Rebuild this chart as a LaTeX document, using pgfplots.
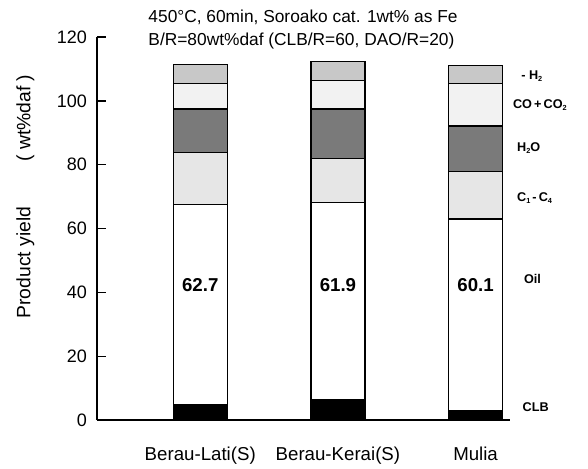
\documentclass[border=0pt]{standalone}
\usepackage{pgfplots}
\pgfplotsset{compat=1.18}
\usepackage{pgfplotstable}
\usepackage{fontspec}
\setmainfont{Liberation Sans}

\definecolor{cH}{HTML}{C8C8C8}
\definecolor{cCO}{HTML}{F2F2F2}
\definecolor{cW}{HTML}{7A7A7A}
\definecolor{cC}{HTML}{E6E6E6}

\newcommand{\sub}[1]{\raisebox{-0.35ex}{\fontsize{5.5}{6}\selectfont #1}}

% columns: CLB, oil, C1-C4, H2O, CO+CO2, H2 (wt%daf)
\pgfplotstableread{
x clb  oil  cc   h2o  co   h2
0 4.9  62.7 16.3 13.5 8.1  5.8
1 6.3  61.9 13.8 15.4 8.9  6.0
2 2.9  60.1 14.9 14.2 13.4 5.5
}\yields

\begin{document}
\begin{tikzpicture}
\begin{axis}[
    scale only axis,
    width=309.75pt, height=287.25pt,
    xmin=-0.75, xmax=2.25, ymin=0, ymax=120,
    enlargelimits=false,
    ybar stacked, bar width=40.5pt,
    axis x line=bottom, axis y line=left,
    x axis line style={-, line width=2pt},
    y axis line style={-, line width=1.2pt},
    xtick={0,1,2},
    xticklabels={Berau-Lati(S),Berau-Kerai(S),Mulia},
    x tick style={draw=none},
    ytick={0,20,...,120},
    tick align=inside, major tick length=7pt,
    y tick style={line width=1pt, black},
    tick label style={font=\fontsize{13.5}{16}\selectfont},
    xticklabel style={font=\fontsize{14}{16}\selectfont, yshift=-17pt},
    /pgf/number format/assume math mode=true,
    yticklabel style={xshift=-4pt},
    every axis plot/.append style={draw=black, line width=1pt},
    clip=false,
]
\addplot[fill=black] table[x=x, y=clb] {\yields};
\addplot[fill=white] table[x=x, y=oil] {\yields};
\addplot[fill=cC] table[x=x, y=cc] {\yields};
\addplot[fill=cW] table[x=x, y=h2o] {\yields};
\addplot[fill=cCO] table[x=x, y=co] {\yields};
\addplot[fill=cH] table[x=x, y=h2] {\yields};

\coordinate (sw) at (rel axis cs:0,0);
\coordinate (ne) at (rel axis cs:1,1);
\coordinate (v0) at (axis cs:0,42.3);
\coordinate (v1) at (axis cs:1,42.3);
\coordinate (v2) at (axis cs:2,42.3);

\node[anchor=west, inner sep=0pt, font=\bfseries\fontsize{9.5}{10}\selectfont] at (axis cs:2.33,107.7) {- H\sub{2}};
\node[anchor=west, inner sep=0pt, font=\bfseries\fontsize{9.5}{10}\selectfont] at (axis cs:2.27,98.6) {CO\,+\,CO\sub{2}};
\node[anchor=west, inner sep=0pt, font=\bfseries\fontsize{9.5}{10}\selectfont] at (axis cs:2.30,85.2) {H\sub{2}O};
\node[anchor=west, inner sep=0pt, font=\bfseries\fontsize{9.5}{10}\selectfont] at (axis cs:2.30,69.5) {C\sub{1}\,-\,C\sub{4}};
\node[anchor=west, inner sep=0pt, font=\bfseries\fontsize{9.5}{10}\selectfont] at (axis cs:2.35,44.1) {Oil};
\node[anchor=west, inner sep=0pt, font=\bfseries\fontsize{9.5}{10}\selectfont] at (axis cs:2.34,4.1) {CLB};

\node[rotate=90, font=\fontsize{14.5}{16}\selectfont] at (axis cs:-1.27,49.3) {Product yield};
\node[rotate=90, font=\fontsize{14.5}{16}\selectfont] at (axis cs:-1.27,94.6) {( wt\%daf )};

\node[anchor=north west, align=left, inner sep=0pt, font=\fontsize{13}{17.25}\selectfont]
  at (axis cs:-0.378,128.5)
  {450°C, 60min, Soroako cat. 1wt\% as Fe\\B/R=80wt\%daf (CLB/R=60, DAO/R=20)};
\end{axis}
\node[font=\bfseries\fontsize{14}{16}\selectfont] at (v0) {62.7};
\node[font=\bfseries\fontsize{14}{16}\selectfont] at (v1) {61.9};
\node[font=\bfseries\fontsize{14}{16}\selectfont] at (v2) {60.1};
\pgfresetboundingbox
\path[use as bounding box] ([shift={(-72.75pt,-36pt)}]sw) rectangle ([shift={(58.5pt,27.75pt)}]ne);
\end{tikzpicture}
\end{document}
